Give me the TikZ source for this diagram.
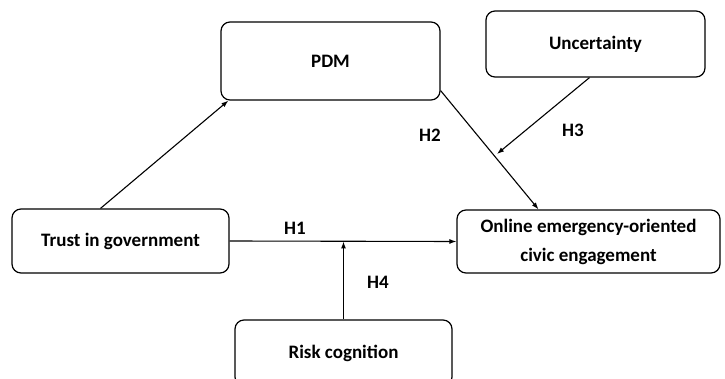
\documentclass[tikz,border=0pt]{standalone}
\usepackage{fontspec}
\setmainfont{Carlito}
\usetikzlibrary{arrows.meta}

\begin{document}
\begin{tikzpicture}
[x=1pt,y=-1pt,
 box/.style={rectangle,rounded corners=9pt,draw,line width=1.2pt,align=center,
   font=\bfseries\fontsize{19}{29}\selectfont},
 hyp/.style={font=\bfseries\fontsize{19}{22}\selectfont},
 every edge/.style={draw,line width=1.1pt,-{Latex[length=7pt,width=5pt]}}]

\clip (0,0) rectangle (725,379);
%\fill[white] (0,0) rectangle (725,379);
\node[box,minimum width=219pt,minimum height=78pt] (PDM) at (330.5,61) {PDM};
\node[box,minimum width=219pt,minimum height=66pt] (Uncertainty) at (595.5,44) {Uncertainty};
\node[box,minimum width=217pt,minimum height=64pt] (Trust) at (120.5,241) {Trust in government};
\node[box,minimum width=263pt,minimum height=63pt] (Online) at (588.5,241.5)
  {Online emergency-oriented\\civic engagement};
\node[box,minimum width=217pt,minimum height=66pt] (Risk) at (343.5,353) {Risk cognition};
\coordinate (MidH2) at (497,154);
\coordinate (MidH1) at (343.5,241.5);

\node[hyp] (H1) at (295,228) {H1};
\node[hyp] (H2) at (430,135) {H2};
\node[hyp] (H3) at (573,130) {H3};
\node[hyp] (H4) at (378,282) {H4};

\path ([xshift=-20pt]Trust.north) edge ([xshift=8pt]PDM.south west)
	([yshift=10pt]PDM.south east) edge ([xshift=-50pt]Online.north)
	([xshift=-6pt]Uncertainty.south) edge (MidH2)
	(Trust.east) edge (Online.west)
	(Risk.north) edge (MidH1);
\end{tikzpicture}
\end{document}
